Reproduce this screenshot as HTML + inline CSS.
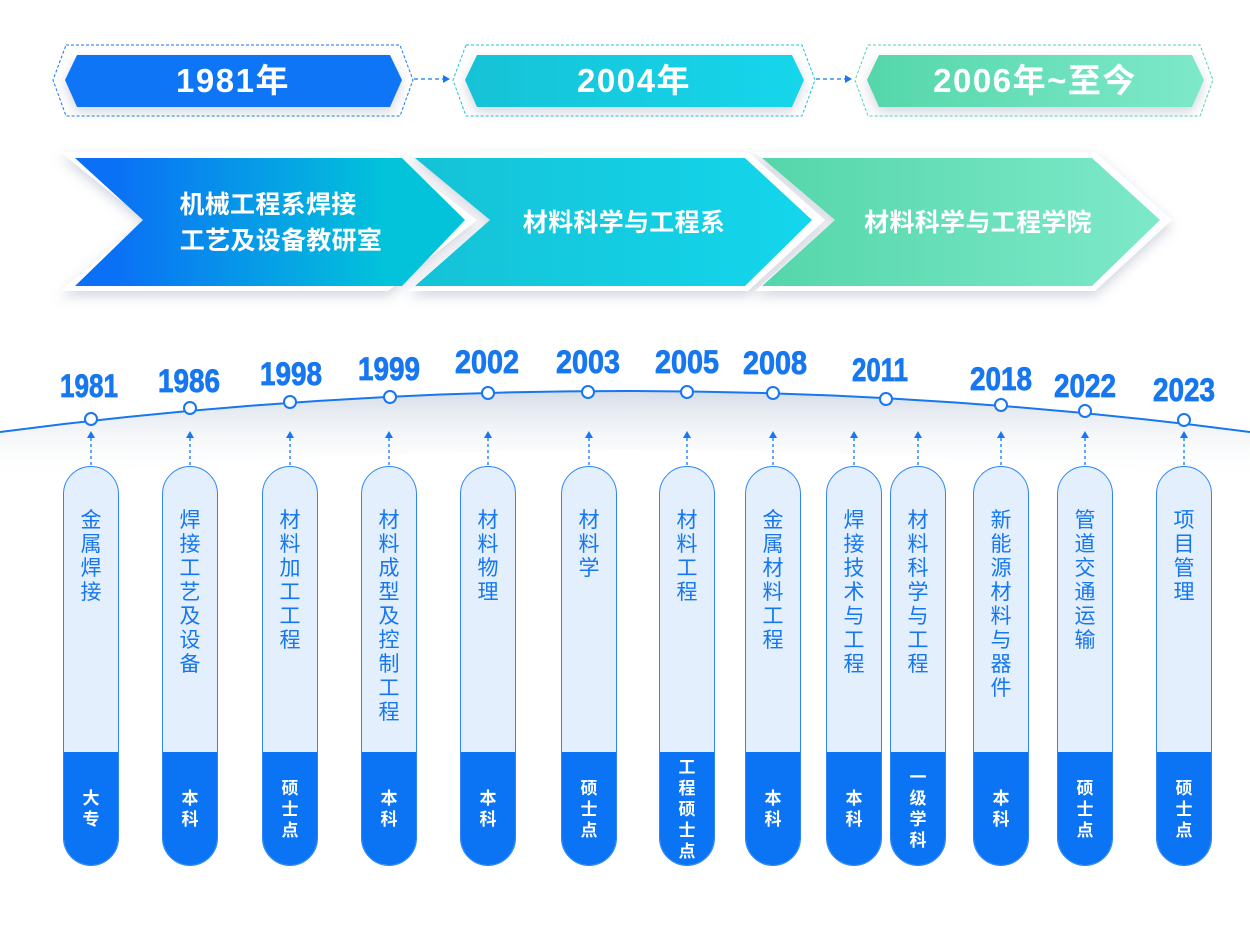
<!DOCTYPE html>
<html><head><meta charset="utf-8"><style>
html,body{margin:0;padding:0;background:#fff;}
body{width:1250px;height:951px;position:relative;overflow:hidden;font-family:"Liberation Sans","Noto Sans CJK SC",sans-serif;}
svg{position:absolute;left:0;top:0;}
.pill{position:absolute;top:466px;width:56px;height:400px;border:1px solid #2f86f2;border-radius:29px;background:#e3effc;overflow:hidden;box-sizing:border-box;}
.pill .t{position:absolute;top:42px;left:0;right:0;margin:auto;width:24px;font-size:21px;line-height:24px;color:#1677f0;text-align:center;word-break:break-all;}
.pill .b{position:absolute;left:-1px;right:-1px;top:285px;bottom:-1px;background:#0a74f5;display:flex;align-items:center;justify-content:center;}
.pill .b span{width:18px;font-size:17px;line-height:21px;color:#fff;font-weight:bold;text-align:center;word-break:break-all;}
</style></head><body>
<svg width="1250" height="951" viewBox="0 0 1250 951">
<defs>
<filter id="sh" x="-10%" y="-20%" width="120%" height="150%"><feDropShadow dx="0" dy="5" stdDeviation="6" flood-color="#9aa3b8" flood-opacity="0.45"/></filter>
<linearGradient id="g1" x1="0" x2="1"><stop offset="0.1" stop-color="#0a70f5"/><stop offset="0.8" stop-color="#02c3da"/></linearGradient>
<linearGradient id="g2" x1="0" x2="1"><stop offset="0" stop-color="#15c2d6"/><stop offset="1" stop-color="#14d6ec"/></linearGradient>
<linearGradient id="g3" x1="0" x2="1"><stop offset="0" stop-color="#55d6aa"/><stop offset="1" stop-color="#7de9c9"/></linearGradient>
<linearGradient id="fade" x1="0" y1="0" x2="0" y2="1"><stop offset="0" stop-color="#d6dde8"/><stop offset="1" stop-color="#ffffff" stop-opacity="0"/></linearGradient>
</defs>
<g fill="none" stroke-dasharray="3,2" stroke-width="1">
<polygon points="66,45 400,45 413,80 400,116 66,116 53,80" stroke="#1677f0"/>
<polygon points="466,45 802,45 815,80 802,116 466,116 453,80" stroke="#18c4d8"/>
<polygon points="868,45 1200,45 1213,80 1200,116 868,116 855,80" stroke="#55d6aa"/>
</g>
<g filter="url(#sh)">
<polygon points="77,55 390,55 402,80 390,107 77,107 65,80" fill="#0b74f6"/>
<polygon points="477,55 792,55 804,80 792,107 477,107 465,80" fill="url(#g2)"/>
<polygon points="879,55 1192,55 1204,80 1192,107 879,107 867,80" fill="url(#g3)"/>
</g>
<g fill="#fff" font-weight="bold" font-size="33" text-anchor="middle" letter-spacing="1.5">
<text x="233" y="92">1981年</text>
<text x="634" y="92">2004年</text>
<text x="1035" y="92">2006年~至今</text>
</g>
<g stroke="#1677f0" stroke-dasharray="4,3" stroke-width="1.3">
<line x1="414" y1="79" x2="443" y2="79"/><line x1="816" y1="79" x2="845" y2="79"/>
</g>
<polygon points="443,75 450,79 443,83" fill="#1677f0"/><polygon points="845,75 852,79 845,83" fill="#1677f0"/>
<g filter="url(#sh)">
<polygon points="755,152 1095,152 1172,220 1095,291 755,291 835,220" fill="#fff"/>
<polygon points="408,152 748,152 825,220 748,291 408,291 490,220" fill="#fff"/>
<polygon points="60,152 388,152 477,220 388,291 60,291 145,220" fill="#fff"/>
</g>
<polygon points="762,158 1092,158 1160,220 1092,286 762,286 835,220" fill="url(#g3)"/>
<polygon points="415,158 745,158 812,220 745,286 415,286 490,220" fill="url(#g2)"/>
<polygon points="75,158 402,158 465,220 402,286 75,286 143,220" fill="url(#g1)"/>
<g fill="#fff" font-weight="bold" font-size="25" text-anchor="middle" letter-spacing="0.3">
<text x="268" y="213">机械工程系焊接</text>
<text x="281" y="249">工艺及设备教研室</text>
<text x="624" y="231">材料科学与工程系</text>
<text x="978" y="231">材料科学与工程学院</text>
</g>
<path d="M0,432 Q625,350 1250,432 L1250,480 Q625,420 0,480 Z" fill="url(#fade)"/>
<path d="M0,432 Q625,350 1250,432" fill="none" stroke="#1677f0" stroke-width="2"/>
<g fill="#fff" stroke="#1677f0" stroke-width="2">
<circle cx="91" cy="419" r="6"/><circle cx="190" cy="408" r="6"/><circle cx="290" cy="402" r="6"/><circle cx="390" cy="397" r="6"/><circle cx="488" cy="393" r="6"/><circle cx="588" cy="392" r="6"/><circle cx="687" cy="392" r="6"/><circle cx="773" cy="393" r="6"/><circle cx="886" cy="399" r="6"/><circle cx="1001" cy="405" r="6"/><circle cx="1085" cy="411" r="6"/><circle cx="1184" cy="420" r="6"/>
</g>
<g fill="#1677f0" font-weight="bold" font-size="32" text-anchor="middle" stroke="#1677f0" stroke-width="0.8">
<text x="89" y="397" textLength="58" lengthAdjust="spacingAndGlyphs">1981</text>
<text x="189" y="392" textLength="62" lengthAdjust="spacingAndGlyphs">1986</text>
<text x="291" y="385" textLength="62" lengthAdjust="spacingAndGlyphs">1998</text>
<text x="389" y="380" textLength="62" lengthAdjust="spacingAndGlyphs">1999</text>
<text x="487" y="373" textLength="64" lengthAdjust="spacingAndGlyphs">2002</text>
<text x="588" y="373" textLength="64" lengthAdjust="spacingAndGlyphs">2003</text>
<text x="687" y="373" textLength="64" lengthAdjust="spacingAndGlyphs">2005</text>
<text x="775" y="374" textLength="64" lengthAdjust="spacingAndGlyphs">2008</text>
<text x="880" y="381" textLength="56" lengthAdjust="spacingAndGlyphs">2011</text>
<text x="1001" y="390" textLength="62" lengthAdjust="spacingAndGlyphs">2018</text>
<text x="1085" y="397" textLength="62" lengthAdjust="spacingAndGlyphs">2022</text>
<text x="1184" y="401" textLength="62" lengthAdjust="spacingAndGlyphs">2023</text>
</g>
<g stroke="#1677f0" stroke-width="1.3" stroke-dasharray="3,3">
<line x1="91" y1="438" x2="91" y2="466"/><line x1="190" y1="438" x2="190" y2="466"/><line x1="290" y1="438" x2="290" y2="466"/><line x1="389" y1="438" x2="389" y2="466"/><line x1="488" y1="438" x2="488" y2="466"/><line x1="589" y1="438" x2="589" y2="466"/><line x1="687" y1="438" x2="687" y2="466"/><line x1="773" y1="438" x2="773" y2="466"/><line x1="854" y1="438" x2="854" y2="466"/><line x1="918" y1="438" x2="918" y2="466"/><line x1="1001" y1="438" x2="1001" y2="466"/><line x1="1085" y1="438" x2="1085" y2="466"/><line x1="1184" y1="438" x2="1184" y2="466"/>
</g>
<g fill="#1677f0">
<path d="M91,431 l-4,7 h8z"/><path d="M190,431 l-4,7 h8z"/><path d="M290,431 l-4,7 h8z"/><path d="M389,431 l-4,7 h8z"/><path d="M488,431 l-4,7 h8z"/><path d="M589,431 l-4,7 h8z"/><path d="M687,431 l-4,7 h8z"/><path d="M773,431 l-4,7 h8z"/><path d="M854,431 l-4,7 h8z"/><path d="M918,431 l-4,7 h8z"/><path d="M1001,431 l-4,7 h8z"/><path d="M1085,431 l-4,7 h8z"/><path d="M1184,431 l-4,7 h8z"/>
</g>
</svg>
<div class="pill" style="left:63px"><div class="t">金属焊接</div><div class="b"><span>大专</span></div></div>
<div class="pill" style="left:162px"><div class="t">焊接工艺及设备</div><div class="b"><span>本科</span></div></div>
<div class="pill" style="left:262px"><div class="t">材料加工工程</div><div class="b"><span>硕士点</span></div></div>
<div class="pill" style="left:361px"><div class="t">材料成型及控制工程</div><div class="b"><span>本科</span></div></div>
<div class="pill" style="left:460px"><div class="t">材料物理</div><div class="b"><span>本科</span></div></div>
<div class="pill" style="left:561px"><div class="t">材料学</div><div class="b"><span>硕士点</span></div></div>
<div class="pill" style="left:659px"><div class="t">材料工程</div><div class="b"><span>工程硕士点</span></div></div>
<div class="pill" style="left:745px"><div class="t">金属材料工程</div><div class="b"><span>本科</span></div></div>
<div class="pill" style="left:826px"><div class="t">焊接技术与工程</div><div class="b"><span>本科</span></div></div>
<div class="pill" style="left:890px"><div class="t">材料科学与工程</div><div class="b"><span>一级学科</span></div></div>
<div class="pill" style="left:973px"><div class="t">新能源材料与器件</div><div class="b"><span>本科</span></div></div>
<div class="pill" style="left:1057px"><div class="t">管道交通运输</div><div class="b"><span>硕士点</span></div></div>
<div class="pill" style="left:1156px"><div class="t">项目管理</div><div class="b"><span>硕士点</span></div></div>
</body></html>
